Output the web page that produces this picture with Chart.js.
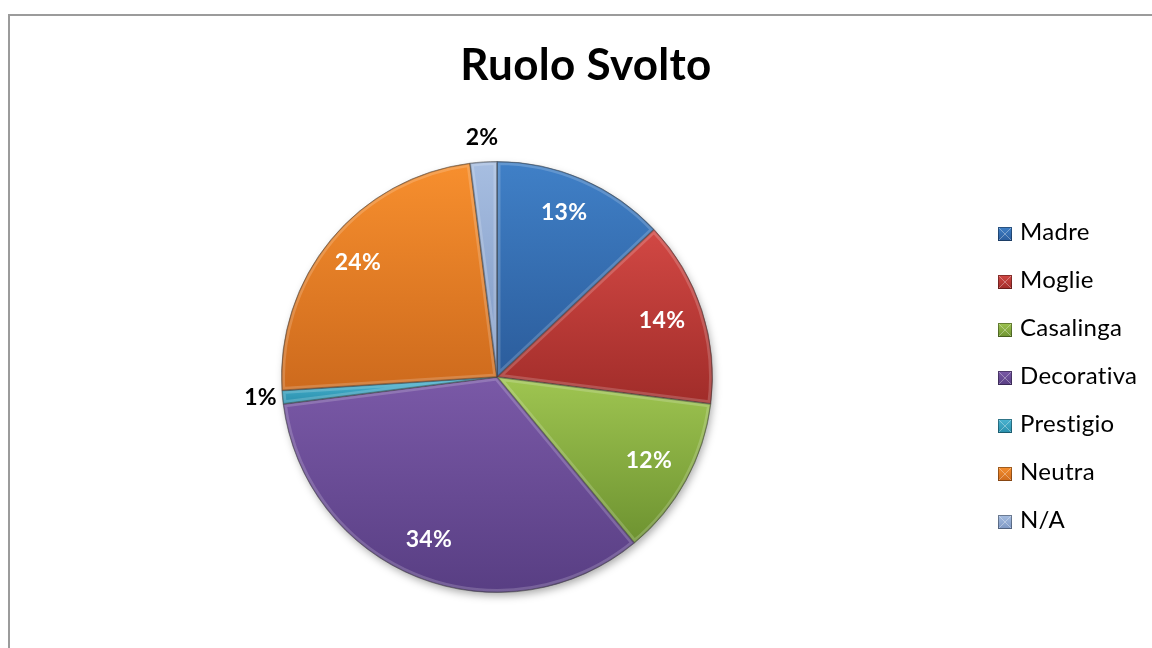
<!DOCTYPE html>
<html>
<head>
<meta charset="utf-8">
<script src="https://cdn.jsdelivr.net/npm/chart.js@4"></script>
<style>
html,body{margin:0;padding:0;background:#fff;overflow:hidden}
#wrap{position:relative;width:1152px;height:648px}
#frame{position:absolute;left:8px;top:14px;width:1300px;height:800px;border-left:2px solid #9b9b9b;border-top:2px solid #9b9b9b;box-sizing:border-box}
#chart{position:absolute;left:0;top:0}
</style>
</head>
<body>
<div id="wrap"><div id="frame"></div><canvas id="chart" width="1152" height="648"></canvas></div>
<script>
const chartTitle = 'Ruolo Svolto';
const labels = ['Madre','Moglie','Casalinga','Decorativa','Prestigio','Neutra','N/A'];
const values = [13,14,12,34,1,24,2];
// top / bottom shade of every slice
const lightColors = ['#4080c7','#d24844','#9fc551','#7a59a7','#4bb5d2','#f78f2e','#a7bee1'];
const darkColors  = ['#2b5c9b','#a02c29','#6d9230','#583e83','#288eab','#cd6a1d','#7d97c3'];

const FONT = 'Lato, "Open Sans", sans-serif';

function arcGeom(arc){
  return arc.getProps(['x','y','startAngle','endAngle','outerRadius'], true);
}
function slicePath(ctx, g){
  ctx.beginPath();
  ctx.moveTo(g.x, g.y);
  ctx.arc(g.x, g.y, g.outerRadius, g.startAngle, g.endAngle);
  ctx.closePath();
}

// shadow under the pie + vertical gradient per slice
const shadePlugin = {
  id: 'shade',
  beforeDatasetsDraw(chart){
    const ctx = chart.ctx;
    const meta = chart.getDatasetMeta(0);
    const first = arcGeom(meta.data[0]);
    ctx.save();
    ctx.shadowColor = 'rgba(0,0,0,0.35)';
    ctx.shadowBlur = 9;
    ctx.shadowOffsetX = 2;
    ctx.shadowOffsetY = 4;
    ctx.fillStyle = '#fff';
    ctx.beginPath();
    ctx.arc(first.x, first.y, first.outerRadius - 1, 0, Math.PI * 2);
    ctx.fill();
    ctx.restore();

    meta.data.forEach((arc, i) => {
      const g = arcGeom(arc);
      let minY = g.y, maxY = g.y;
      for (let k = 0; k <= 40; k++){
        const a = g.startAngle + (g.endAngle - g.startAngle) * k / 40;
        const py = g.y + g.outerRadius * Math.sin(a);
        minY = Math.min(minY, py); maxY = Math.max(maxY, py);
      }
      const grad = ctx.createLinearGradient(0, minY, 0, maxY + 1);
      grad.addColorStop(0, lightColors[i]);
      grad.addColorStop(1, darkColors[i]);
      arc.options = Object.assign({}, arc.options, {backgroundColor: grad});
    });
  },
  afterDatasetsDraw(chart){
    // soft bevel on the slice edges
    const ctx = chart.ctx;
    chart.getDatasetMeta(0).data.forEach(arc => {
      const g = arcGeom(arc);
      ctx.save();
      slicePath(ctx, g);
      ctx.clip();
      ctx.lineJoin = 'round';
      ctx.strokeStyle = 'rgba(255,255,255,0.18)';
      ctx.lineWidth = 7;
      slicePath(ctx, g);
      ctx.stroke();
      ctx.strokeStyle = 'rgba(0,0,0,0.22)';
      ctx.lineWidth = 2;
      slicePath(ctx, g);
      ctx.stroke();
      ctx.restore();
    });
  }
};

// percentage labels, title and legend
const textPlugin = {
  id: 'texts',
  afterDraw(chart){
    const ctx = chart.ctx;
    const total = values.reduce((a, b) => a + b, 0);
    ctx.save();
    ctx.letterSpacing = '0.3px';
    ctx.textAlign = 'center';
    ctx.textBaseline = 'middle';
    ctx.font = 'bold 23px ' + FONT;
    chart.getDatasetMeta(0).data.forEach((arc, i) => {
      const g = arcGeom(arc);
      const mid = (g.startAngle + g.endAngle) / 2;
      const pct = Math.round(values[i] / total * 100);
      const inside = pct >= 5;
      const r = inside ? g.outerRadius * 0.82 : g.outerRadius + 22;
      ctx.fillStyle = inside ? '#fff' : '#000';
      ctx.fillText(pct + '%', g.x + r * Math.cos(mid) - (inside ? 3 : 0), g.y + r * Math.sin(mid) - 2);
    });

    ctx.fillStyle = '#000';
    ctx.textBaseline = 'alphabetic';
    ctx.font = 'bold 44px ' + FONT;
    ctx.fillText(chartTitle, 586, 80);

    ctx.textAlign = 'left';
    ctx.font = '24px ' + FONT;
    labels.forEach((lab, i) => {
      const base = 240 + i * 48;
      const sx = 998, sy = base - 13, s = 14;
      const grad = ctx.createLinearGradient(0, sy, 0, sy + s);
      grad.addColorStop(0, lightColors[i]);
      grad.addColorStop(1, darkColors[i]);
      ctx.fillStyle = grad;
      ctx.fillRect(sx, sy, s, s);
      ctx.strokeStyle = 'rgba(0,0,0,0.35)';
      ctx.lineWidth = 1;
      ctx.strokeRect(sx + 0.5, sy + 0.5, s - 1, s - 1);
      ctx.strokeStyle = 'rgba(255,255,255,0.35)';
      ctx.beginPath();
      ctx.moveTo(sx + 1, sy + 1); ctx.lineTo(sx + s - 1, sy + s - 1);
      ctx.moveTo(sx + s - 1, sy + 1); ctx.lineTo(sx + 1, sy + s - 1);
      ctx.stroke();
      ctx.fillStyle = '#000';
      ctx.fillText(lab, 1020, base);
    });
    ctx.restore();
  }
};

new Chart(document.getElementById('chart'), {
  type: 'pie',
  data: {
    labels: labels,
    datasets: [{
      data: values,
      backgroundColor: darkColors,
      borderColor: 'rgba(40,40,40,0.45)',
      borderWidth: 1
    }]
  },
  options: {
    responsive: false,
    animation: false,
    layout: {padding: {left: 281, right: 439, top: 161, bottom: 55}},
    plugins: {legend: {display: false}, tooltip: {enabled: false}}
  },
  plugins: [shadePlugin, textPlugin]
});
</script>
</body>
</html>
